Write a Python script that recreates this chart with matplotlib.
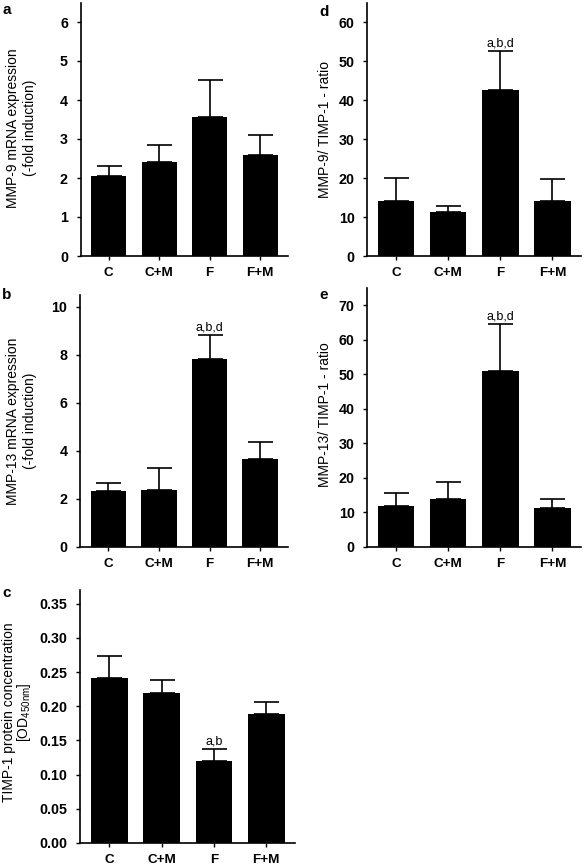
import matplotlib
matplotlib.use("Agg")
import matplotlib.pyplot as plt
import numpy as np

plt.rcParams['font.family'] = ['Liberation Sans', 'DejaVu Sans']
plt.rcParams['mathtext.default'] = 'regular'

groups = ["C", "C+M", "F", "F+M"]

mmp9_mean = [2.05, 2.40, 3.57, 2.58]
mmp9_err = [0.27, 0.45, 0.94, 0.53]

mmp13_mean = [2.35, 2.39, 7.83, 3.67]
mmp13_err = [0.33, 0.90, 1.02, 0.72]

timp1_mean = [0.242, 0.219, 0.120, 0.188]
timp1_err = [0.032, 0.020, 0.017, 0.018]

mmp9_ratio_mean = [14.2, 11.3, 42.6, 14.0]
mmp9_ratio_err = [5.8, 1.6, 10.1, 5.8]

mmp13_ratio_mean = [12.0, 13.9, 51.0, 11.4]
mmp13_ratio_err = [3.6, 4.8, 13.7, 2.4]

W, H = 584, 868
fig = plt.figure(figsize=(W / 100, H / 100), dpi=100)


def px_axes(left, top, right, bottom):
    return fig.add_axes([left / W, 1 - bottom / H, (right - left) / W, (bottom - top) / H])


def panel(ax, means, errs, ymax, yticks, fmt, annot=None):
    x = np.arange(len(groups))
    ax.bar(x, means, width=0.7, color='black', zorder=2)
    ax.errorbar(x, means, yerr=[np.zeros(len(errs)), errs], fmt='none',
                ecolor='black', elinewidth=1.2, capsize=9, capthick=1.2, zorder=1)
    ax.set_xlim(-0.56, 3.55)
    ax.set_ylim(0, ymax)
    ax.set_yticks(yticks)
    ax.set_yticklabels([fmt.format(v) for v in yticks], fontweight='bold', fontsize=10.3)
    ax.set_xticks(x)
    ax.set_xticklabels(groups, fontweight='bold', fontsize=9.7)
    for s in ['top', 'right']:
        ax.spines[s].set_visible(False)
    for s in ['left', 'bottom']:
        ax.spines[s].set_linewidth(1.2)
    ax.tick_params(axis='y', direction='out', length=3, width=1, pad=6)
    ax.tick_params(axis='x', direction='out', length=3, width=1, pad=5)
    if annot is not None:
        i, txt = annot
        ax.annotate(txt, (i, means[i] + errs[i]), xytext=(0, 1), textcoords='offset points',
                    ha='center', va='bottom', fontsize=9)


# a
ax_a = px_axes(80.5, 2.5, 288, 256)
panel(ax_a, mmp9_mean, mmp9_err, 6.5, [0, 1, 2, 3, 4, 5, 6], "{:g}")
# d
ax_d = px_axes(367, 2.7, 581, 256)
panel(ax_d, mmp9_ratio_mean, mmp9_ratio_err, 65, [0, 10, 20, 30, 40, 50, 60], "{:g}",
      annot=(2, "a,b,d"))
# b
ax_b = px_axes(80, 295, 288, 547)
panel(ax_b, mmp13_mean, mmp13_err, 10.5, [0, 2, 4, 6, 8, 10], "{:g}", annot=(2, "a,b,d"))
# e
ax_e = px_axes(367, 288, 581, 547)
panel(ax_e, mmp13_ratio_mean, mmp13_ratio_err, 75, [0, 10, 20, 30, 40, 50, 60, 70], "{:g}",
      annot=(2, "a,b,d"))
# c
ax_c = px_axes(80, 590, 295, 843)
panel(ax_c, timp1_mean, timp1_err, 0.37,
      [0.0, 0.05, 0.10, 0.15, 0.20, 0.25, 0.30, 0.35], "{:.2f}", annot=(2, "a,b"))


def ftext(x, y, s, **kw):
    fig.text(x / W, 1 - y / H, s, **kw)


# panel letters
for (x, y, s) in [(7, 10, 'a'), (324, 12, 'd'), (7, 295, 'b'), (324, 295, 'e'), (7, 593, 'c')]:
    ftext(x, y, s, fontsize=11, fontweight='bold', ha='center', va='center')

# y labels
ftext(21.5, 128, "MMP-9 mRNA expression\n(-fold induction)", rotation=90, ha='center',
      va='center', fontsize=10, multialignment='center', linespacing=1.35)
ftext(21.5, 421, "MMP-13 mRNA expression\n(-fold induction)", rotation=90, ha='center',
      va='center', fontsize=10, multialignment='center', linespacing=1.35)
ftext(17.5, 712, "TIMP-1 protein concentration\n[OD$_{450nm}$]", rotation=90, ha='center',
      va='center', fontsize=10, multialignment='center', linespacing=0.95)
ftext(325, 129, "MMP-9/ TIMP-1 - ratio", rotation=90, ha='center', va='center', fontsize=10)
ftext(325, 415, "MMP-13/ TIMP-1 - ratio", rotation=90, ha='center', va='center', fontsize=10)

fig.savefig("out.png", dpi=100)
